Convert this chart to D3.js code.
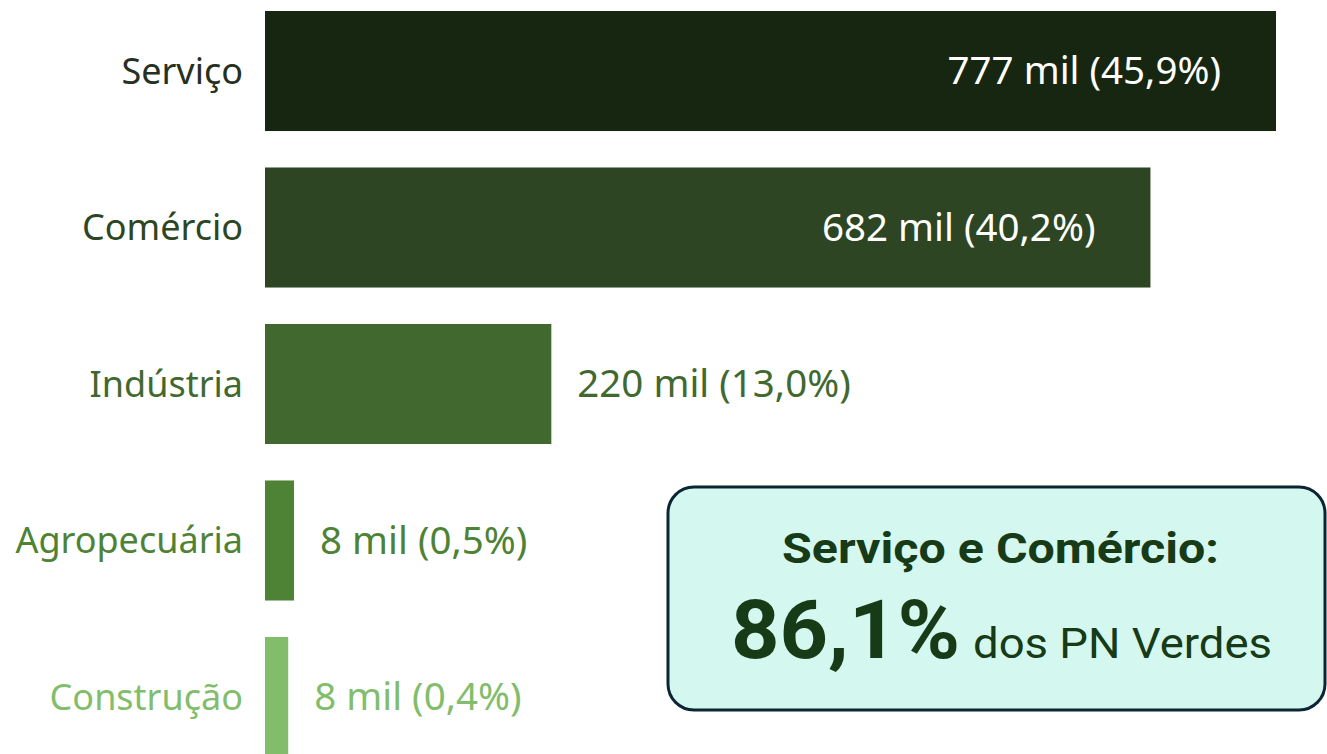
<!DOCTYPE html>
<html>
<head>
<meta charset="utf-8">
<script src="https://cdn.jsdelivr.net/npm/d3@7"></script>
<style>
  body { margin: 0; background: #fff; }
  svg { display: block; }
  .cat { font-family: "Noto Sans", sans-serif; font-size: 36px; }
  .val { font-family: "Noto Sans", sans-serif; font-size: 38.5px; }
  .box text { font-family: Roboto, sans-serif; fill: #173a17; }
</style>
</head>
<body>
<div id="chart"></div>
<script>
// setores dos PN verdes
var sectors = ['Serviço', 'Comércio', 'Indústria', 'Agropecuária', 'Construção']
var thousands = [777, 682, 220, 8, 8]
var shares = [45.9, 40.2, 13.0, 0.5, 0.4]
var colors = ['#162610', '#2d4522', '#41692f', '#4e8235', '#82bd6c']
var labelColors = ['#26301f', '#2d4522', '#41692f', '#4e8235', '#82bd6c']

var highlightTitle = 'Serviço e Comércio:'
var highlightValue = '86,1%'
var highlightText = 'dos PN Verdes'

var width = 1327
var height = 754

var svg = d3.select('#chart').append('svg').attr('width', width).attr('height', height)

var x0 = 265
var x = d3.scaleLinear().domain([0, d3.max(shares)]).range([0, 1011])
// the tiny shares are drawn on a stretched stub scale so they stay visible
var stub = d3.scaleLinear().domain([0, 0.5]).range([0, 29])
function barW(d) { return d.share < 1 ? stub(d.share) : x(d.share) }

var y = d3.scaleBand().domain(sectors).range([11, 757]).paddingInner(0.233)

var data = sectors.map(function(s, i) {
  return {name: s, k: thousands[i], share: shares[i], color: colors[i], lc: labelColors[i]}
})

function fmt(d) {
  return d.k + ' mil (' + d.share.toFixed(1).replace('.', ',') + '%)'
}

svg.append('g').selectAll('rect')
  .data(data).join('rect')
  .attr('x', x0)
  .attr('y', d => y(d.name))
  .attr('width', barW)
  .attr('height', y.bandwidth())
  .attr('fill', d => d.color)

svg.append('g').selectAll('text')
  .data(data).join('text')
  .attr('class', 'cat')
  .attr('x', 243)
  .attr('y', d => y(d.name) + y.bandwidth() / 2)
  .attr('dy', '0.35em')
  .attr('text-anchor', 'end')
  .attr('fill', d => d.lc)
  .text(d => d.name)

svg.append('g').selectAll('text')
  .data(data).join('text')
  .attr('class', 'val')
  .attr('x', function(d) {
    if (d.share > 30) return x0 + barW(d) - 55
    return x0 + barW(d) + 26
  })
  .attr('y', d => y(d.name) + y.bandwidth() / 2)
  .attr('dy', '0.35em')
  .attr('text-anchor', d => d.share > 30 ? 'end' : 'start')
  .attr('fill', d => d.share > 30 ? '#ffffff' : d.lc)
  .text(fmt)

// caixa de destaque
var box = svg.append('g').attr('class', 'box')
box.append('rect')
  .attr('x', 668).attr('y', 487)
  .attr('width', 657).attr('height', 223)
  .attr('rx', 26)
  .attr('fill', '#d4f8ef')
  .attr('stroke', '#0c2535')
  .attr('stroke-width', 3)

box.append('text')
  .attr('x', 782).attr('y', 563)
  .attr('font-size', 42)
  .attr('font-weight', 'bold')
  .attr('textLength', 437)
  .attr('lengthAdjust', 'spacingAndGlyphs')
  .text(highlightTitle)

box.append('text')
  .attr('x', 731).attr('y', 658)
  .attr('font-size', 81)
  .attr('font-weight', 'bold')
  .attr('textLength', 229)
  .attr('lengthAdjust', 'spacingAndGlyphs')
  .text(highlightValue)

box.append('text')
  .attr('x', 973).attr('y', 658)
  .attr('font-size', 42)
  .attr('textLength', 299)
  .attr('lengthAdjust', 'spacingAndGlyphs')
  .text(highlightText)
</script>
</body>
</html>
